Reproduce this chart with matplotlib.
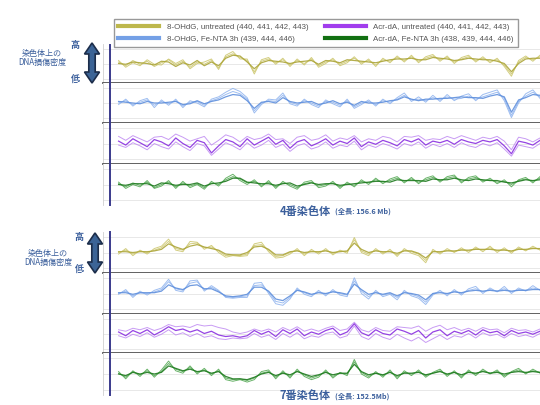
import numpy as np
import matplotlib.pyplot as plt
from matplotlib.lines import Line2D
from matplotlib.patches import Polygon

plt.rcParams['font.family'] = ['Noto Sans CJK JP', 'DejaVu Sans']

# chromosome lengths (Mb)
chr4_length = 156.6
chr7_length = 152.5

series_labels = ['8-OHdG, untreated (440, 441, 442, 443)',
                 '8-OHdG, Fe-NTA 3h (439, 444, 446)',
                 'Acr-dA, untreated (440, 441, 442, 443)',
                 'Acr-dA, Fe-NTA 3h (438, 439, 444, 446)']

# relative DNA damage density along chromosome 4 (3 replicates per track)
chr4_ohdg_untreated = [
    [0.2, -0.3, 0.4, -0.1, 0.3, -0.4, 0.1, 0.5, -0.2, 0.3, -0.5, 0.2, -0.1, 0.4, -0.6, 0.9, 1.3, 0.8, 0.4, -1.1,
     0.3, 0.6, 0.1, 0.5, -0.2, 0.4, 0.0, 0.6, -0.3, 0.2, 0.5, -0.1, 0.3, 0.7, 0.1, 0.4, -0.2, 0.5, 0.3, 0.8,
     0.4, 0.9, 0.3, 0.7, 1.0, 0.5, 0.8, 0.2, 0.6, 0.9, 0.4, 0.7, 0.3, 0.5, -0.2, -1.4, 0.2, 0.8, 0.5, 0.9],
    [0.0, -0.1, 0.2, 0.1, 0.0, -0.2, 0.3, 0.2, -0.4, 0.1, -0.2, 0.4, -0.3, 0.2, -0.3, 0.7, 1.1, 1.0, 0.2, -0.7,
     0.1, 0.4, 0.3, 0.2, 0.0, 0.2, 0.3, 0.4, -0.1, 0.4, 0.3, 0.1, 0.5, 0.4, 0.3, 0.2, 0.1, 0.3, 0.5, 0.6,
     0.6, 0.7, 0.5, 0.5, 0.8, 0.7, 0.6, 0.4, 0.5, 0.7, 0.6, 0.5, 0.5, 0.3, 0.0, -1.1, 0.0, 0.6, 0.7, 0.7],
    [0.4, -0.5, 0.1, -0.3, 0.5, -0.1, -0.2, 0.6, 0.0, 0.5, -0.7, 0.0, 0.2, 0.6, -0.8, 1.1, 1.6, 0.6, 0.6, -1.4,
     0.5, 0.8, -0.1, 0.7, -0.4, 0.6, -0.2, 0.8, -0.5, 0.0, 0.7, -0.3, 0.1, 0.9, -0.1, 0.6, -0.4, 0.7, 0.1, 1.0,
     0.2, 1.1, 0.1, 0.9, 1.2, 0.3, 1.0, 0.0, 0.8, 1.1, 0.2, 0.9, 0.1, 0.7, -0.4, -1.7, 0.4, 1.0, 0.3, 1.1],
]
chr4_ohdg_fenta = [
    [0.0, 0.3, -0.2, 0.1, 0.4, -0.3, 0.2, -0.1, 0.3, -0.4, 0.1, 0.2, -0.3, 0.3, 0.6, 1.1, 1.5, 1.2, 0.5, -1.0,
     0.0, 0.3, 0.2, 1.0, 0.1, -0.2, 0.3, 0.0, -0.4, 0.2, 0.1, -0.3, 0.3, -0.5, 0.0, 0.2, -0.2, 0.3, 0.1, 0.5,
     1.0, 0.4, 0.5, 0.3, 0.7, 0.4, 0.8, 0.5, 0.6, 0.9, 0.5, 0.8, 1.1, 1.4, 0.6, -1.6, 0.2, 0.9, 1.4, 0.8],
    [0.2, 0.1, 0.0, -0.1, 0.2, 0.0, 0.0, 0.1, 0.2, -0.2, -0.1, 0.3, -0.1, 0.2, 0.4, 0.8, 1.1, 1.0, 0.3, -0.7,
     0.1, 0.2, 0.0, 0.7, 0.2, 0.0, 0.1, 0.2, -0.2, 0.0, 0.3, -0.1, 0.1, -0.3, 0.2, 0.0, 0.0, 0.1, 0.3, 0.4,
     0.8, 0.5, 0.3, 0.5, 0.5, 0.6, 0.6, 0.7, 0.8, 0.7, 0.7, 0.6, 0.9, 1.1, 0.8, -1.2, 0.4, 0.7, 1.1, 1.0],
    [-0.2, 0.5, -0.4, 0.3, 0.6, -0.6, 0.4, -0.3, 0.5, -0.6, 0.3, 0.0, -0.5, 0.5, 0.8, 1.4, 1.9, 1.5, 0.7, -1.3,
     -0.2, 0.5, 0.4, 1.3, -0.1, -0.4, 0.5, -0.2, -0.6, 0.4, -0.1, -0.5, 0.5, -0.7, -0.2, 0.4, -0.4, 0.5, -0.1, 0.7,
     1.3, 0.2, 0.8, 0.1, 1.0, 0.2, 1.1, 0.3, 0.9, 1.2, 0.3, 1.1, 1.4, 1.7, 0.3, -1.9, 0.0, 1.2, 1.7, 0.6],
]
chr4_acr_untreated = [
    [0.3, -0.2, 0.6, 0.1, -0.4, 0.5, 0.2, -0.3, 0.7, 0.0, -0.5, 0.4, 0.1, -1.2, -0.3, 0.5, 0.2, -0.4, 0.6, -0.2,
     0.3, 0.8, -0.1, 0.4, -0.6, 0.2, 0.5, -0.3, 0.1, 0.6, -0.2, 0.3, 0.0, 0.7, -0.4, 0.2, -0.1, 0.4, 0.1, -0.3,
     0.5, 0.2, 0.6, -0.2, 0.3, 0.1, 0.4, -0.1, 0.5, 0.2, 0.0, 0.4, 0.2, 0.5, -0.3, -1.3, 0.3, 0.1, -0.2, 0.4],
    [0.9, 0.4, 1.0, 0.6, 0.2, 0.8, 0.9, 0.5, 1.2, 0.8, 0.3, 0.6, 0.9, -0.2, 0.4, 1.1, 0.8, 0.2, 0.9, 0.5,
     0.7, 1.2, 0.5, 0.6, 0.0, 0.8, 1.0, 0.4, 0.6, 1.1, 0.3, 0.7, 0.5, 1.0, 0.2, 0.6, 0.4, 0.9, 0.7, 0.2,
     0.9, 0.8, 1.0, 0.4, 0.6, 0.5, 0.9, 0.6, 1.0, 0.7, 0.4, 0.8, 0.6, 0.9, 0.3, -0.8, 0.8, 0.6, 0.2, 0.7],
    [-0.2, -0.5, 0.1, -0.3, -0.8, 0.0, -0.4, -0.7, 0.2, -0.4, -0.9, 0.0, -0.3, -1.5, -0.7, 0.1, -0.3, -0.8, 0.1, -0.6,
     -0.2, 0.4, -0.5, -0.1, -1.0, -0.3, 0.0, -0.7, -0.4, 0.2, -0.6, -0.2, -0.4, 0.3, -0.8, -0.2, -0.5, 0.0, -0.3, -0.7,
     0.0, -0.3, 0.2, -0.6, -0.1, -0.4, 0.0, -0.5, 0.1, -0.3, -0.5, 0.0, -0.3, 0.1, -0.7, -1.6, -0.2, -0.4, -0.6, 0.0],
]
chr4_acr_fenta = [
    [0.1, -0.3, 0.2, -0.1, 0.3, -0.4, 0.0, 0.3, -0.3, 0.2, -0.2, 0.1, -0.4, 0.2, 0.0, 0.6, 1.0, 0.7, 0.2, 0.4,
     -0.1, 0.3, -0.3, 0.2, 0.0, -0.4, 0.1, 0.3, -0.2, 0.0, 0.2, -0.3, 0.1, -0.1, 0.4, 0.2, 0.6, 0.3, 0.5, 0.8,
     0.4, 0.7, 0.3, 0.6, 0.9, 0.5, 0.8, 1.0, 0.4, 0.7, 0.9, 0.5, 0.6, 0.3, 0.4, 0.0, 0.5, 0.7, 0.4, 0.8],
    [0.0, -0.1, 0.1, 0.1, 0.1, -0.2, 0.2, 0.1, -0.1, 0.0, 0.0, 0.2, -0.2, 0.1, 0.2, 0.4, 0.8, 0.8, 0.3, 0.2,
     0.1, 0.1, -0.1, 0.1, 0.2, -0.2, 0.0, 0.2, 0.0, 0.1, 0.1, -0.1, 0.0, 0.1, 0.2, 0.3, 0.4, 0.4, 0.3, 0.6,
     0.5, 0.5, 0.5, 0.4, 0.7, 0.6, 0.6, 0.8, 0.6, 0.5, 0.7, 0.6, 0.5, 0.5, 0.3, 0.2, 0.4, 0.6, 0.5, 0.6],
    [0.3, -0.5, 0.0, -0.3, 0.5, -0.5, -0.2, 0.5, -0.5, 0.4, -0.4, 0.0, -0.6, 0.4, -0.2, 0.8, 1.3, 0.5, 0.0, 0.6,
     -0.3, 0.5, -0.5, 0.4, -0.2, -0.6, 0.3, 0.5, -0.4, -0.2, 0.4, -0.5, 0.3, -0.3, 0.6, 0.0, 0.8, 0.1, 0.7, 1.0,
     0.2, 0.9, 0.1, 0.8, 1.1, 0.3, 1.0, 1.2, 0.2, 0.9, 1.1, 0.3, 0.8, 0.1, 0.6, -0.3, 0.6, 0.9, 0.2, 1.0],
]

# relative DNA damage density along chromosome 7
chr7_ohdg_untreated = [
    [0.0, 0.3, -0.2, 0.2, 0.0, 0.3, 0.6, 1.4, 0.5, 0.3, 1.1, 1.2, 0.6, 0.7, 0.2, -0.4, -0.3, -0.4, -0.2, 0.9,
     1.0, 0.3, -0.5, -0.4, 0.0, 0.3, -0.2, 0.2, 0.0, 0.3, -0.1, 0.2, 0.1, 1.6, 0.2, -0.2, 0.3, 0.0, 0.2, -0.3,
     0.3, 0.1, -0.2, -1.0, 0.2, 0.0, 0.3, 0.1, 0.4, 0.2, 0.5, 0.3, 0.6, 0.2, 0.4, 0.1, 0.5, 0.3, 0.6, 0.4],
    [0.1, 0.1, 0.0, 0.1, 0.1, 0.2, 0.4, 1.1, 0.7, 0.4, 0.8, 1.0, 0.7, 0.5, 0.3, -0.2, -0.3, -0.3, 0.0, 0.7,
     0.8, 0.4, -0.3, -0.3, 0.1, 0.2, 0.0, 0.1, 0.1, 0.2, 0.0, 0.1, 0.2, 1.2, 0.4, 0.0, 0.2, 0.1, 0.1, -0.1,
     0.2, 0.2, -0.1, -0.7, 0.1, 0.1, 0.2, 0.2, 0.3, 0.3, 0.4, 0.4, 0.4, 0.3, 0.3, 0.2, 0.4, 0.4, 0.5, 0.5],
    [-0.2, 0.5, -0.4, 0.3, -0.2, 0.5, 0.8, 1.7, 0.3, 0.1, 1.4, 1.3, 0.4, 0.9, 0.0, -0.6, -0.4, -0.5, -0.4, 1.1,
     1.3, 0.1, -0.7, -0.6, -0.2, 0.5, -0.4, 0.4, -0.2, 0.5, -0.3, 0.3, -0.1, 1.9, 0.0, -0.4, 0.5, -0.2, 0.4, -0.5,
     0.5, -0.1, -0.4, -1.3, 0.4, -0.2, 0.5, 0.0, 0.6, 0.0, 0.7, 0.1, 0.8, 0.0, 0.6, -0.1, 0.7, 0.2, 0.8, 0.3],
]
chr7_ohdg_fenta = [
    [0.0, 0.3, -0.3, 0.1, 0.0, 0.2, 0.5, 1.5, 0.6, 0.4, 1.3, 1.5, 0.5, 0.8, 0.3, -0.4, -0.5, -0.4, -0.3, 1.0,
     1.1, 0.2, -1.0, -1.2, -0.5, 0.5, 0.1, -0.2, 0.2, -0.1, 0.3, 0.0, -0.2, 1.6, 0.3, -0.4, 0.2, -0.2, 0.0, -0.5,
     0.2, -0.1, -0.4, -1.1, 0.0, 0.2, -0.1, 0.3, 0.0, 0.4, 0.6, 0.2, 0.5, 0.3, 0.6, 0.2, 0.5, 0.4, 0.7, 0.5],
    [0.1, 0.1, -0.1, 0.1, 0.1, 0.1, 0.3, 1.1, 0.7, 0.5, 1.0, 1.1, 0.6, 0.6, 0.2, -0.3, -0.4, -0.3, -0.1, 0.8,
     0.8, 0.3, -0.7, -0.9, -0.3, 0.4, 0.2, -0.1, 0.1, 0.0, 0.2, 0.1, -0.1, 1.2, 0.5, -0.1, 0.1, -0.1, 0.1, -0.3,
     0.1, 0.0, -0.2, -0.8, 0.0, 0.1, 0.0, 0.2, 0.1, 0.3, 0.4, 0.3, 0.4, 0.3, 0.4, 0.3, 0.4, 0.4, 0.5, 0.5],
    [-0.1, 0.5, -0.5, 0.3, -0.2, 0.4, 0.7, 1.8, 0.4, 0.2, 1.6, 1.7, 0.3, 1.0, 0.4, -0.5, -0.6, -0.5, -0.5, 1.3,
     1.4, 0.0, -1.3, -1.5, -0.7, 0.7, -0.1, -0.4, 0.4, -0.3, 0.5, -0.2, -0.4, 2.0, 0.0, -0.7, 0.4, -0.4, -0.1, -0.8,
     0.4, -0.3, -0.6, -1.4, -0.2, 0.4, -0.3, 0.5, -0.2, 0.6, 0.9, 0.0, 0.7, 0.2, 0.9, 0.0, 0.7, 0.3, 1.0, 0.4],
]
chr7_acr_untreated = [
    [0.2, -0.3, 0.4, 0.0, 0.5, -0.2, 0.3, 0.9, 0.4, 0.6, 0.2, 0.5, 0.0, 0.3, -0.2, -0.4, -0.3, -0.5, -0.3, 0.4,
     -0.1, 0.3, -0.4, 0.5, 0.0, 0.6, -0.3, 0.2, -0.1, 0.4, 0.7, -0.2, 0.2, 1.3, 0.1, -0.3, 0.5, 0.0, -0.2, 0.6,
     0.3, -0.1, 0.4, -0.6, 0.2, 0.5, -0.3, 0.3, 0.0, 0.4, -0.2, 0.5, 0.1, 0.3, -0.3, 0.4, 0.0, 0.2, -0.1, 0.3],
    [0.5, 0.3, 0.7, 0.5, 0.8, 0.4, 0.7, 1.2, 0.9, 1.0, 0.8, 1.2, 1.0, 1.1, 0.8, 0.6, 0.2, 0.0, 0.2, 0.6,
     0.3, 0.6, 0.2, 0.8, 0.4, 0.9, 0.3, 0.6, 0.3, 0.7, 1.0, 0.4, 0.6, 1.5, 0.5, 0.2, 0.8, 0.4, 0.3, 0.9,
     0.8, 0.7, 1.0, 0.3, 0.8, 1.1, 0.5, 0.8, 0.4, 0.7, 0.3, 0.8, 0.5, 0.6, 0.1, 0.7, 0.4, 0.5, 0.2, 0.6],
    [-0.3, -0.6, -0.1, -0.4, 0.1, -0.5, -0.1, 0.5, -0.2, 0.1, -0.4, 0.0, -0.5, -0.3, -0.7, -0.8, -0.6, -0.7, -0.6, 0.0,
     -0.5, -0.2, -0.8, 0.0, -0.5, 0.1, -0.7, -0.3, -0.5, 0.0, 0.2, -0.6, -0.3, 1.0, -0.4, -0.8, 0.0, -0.5, -0.8, -0.1,
     -0.6, -1.0, -0.5, -1.2, -0.7, -0.2, -0.8, -0.3, -0.5, 0.0, -0.6, 0.1, -0.3, -0.1, -0.6, 0.0, -0.4, -0.2, -0.5, 0.0],
]
chr7_acr_fenta = [
    [0.1, -0.4, 0.3, -0.1, 0.4, -0.2, 0.3, 1.3, 0.6, 0.3, 0.8, 0.2, 0.5, 0.0, 0.4, -0.5, -0.7, -0.6, -0.8, -0.5,
     0.1, 0.3, -0.4, 0.2, -0.3, 0.4, -0.1, -0.5, -0.2, 0.3, -0.3, 0.1, 0.0, 1.5, 0.2, -0.3, 0.1, -0.2, 0.3, -0.4,
     0.2, 0.0, 0.3, -0.2, 0.1, 0.4, -0.1, 0.2, -0.3, 0.3, 0.0, 0.4, 0.1, 0.3, -0.2, 0.2, 0.5, 0.1, 0.4, 0.2],
    [0.0, -0.2, 0.2, 0.0, 0.2, 0.0, 0.2, 1.0, 0.7, 0.4, 0.6, 0.3, 0.4, 0.1, 0.3, -0.3, -0.6, -0.6, -0.7, -0.4,
     0.0, 0.2, -0.2, 0.1, -0.1, 0.3, 0.0, -0.3, -0.1, 0.2, -0.1, 0.1, 0.1, 1.2, 0.3, -0.1, 0.1, -0.1, 0.2, -0.2,
     0.1, 0.1, 0.2, -0.1, 0.1, 0.3, 0.0, 0.2, -0.1, 0.2, 0.1, 0.3, 0.1, 0.2, 0.0, 0.2, 0.3, 0.2, 0.3, 0.2],
    [0.3, -0.6, 0.4, -0.3, 0.6, -0.4, 0.5, 1.6, 0.4, 0.1, 1.0, 0.0, 0.7, -0.2, 0.6, -0.7, -0.9, -0.7, -1.0, -0.7,
     0.3, 0.5, -0.6, 0.4, -0.5, 0.6, -0.3, -0.7, -0.4, 0.5, -0.5, 0.2, -0.2, 1.8, 0.0, -0.5, 0.3, -0.4, 0.5, -0.6,
     0.4, -0.2, 0.5, -0.4, 0.2, 0.6, -0.3, 0.4, -0.5, 0.5, -0.2, 0.6, 0.0, 0.5, -0.4, 0.3, 0.7, 0.0, 0.6, 0.1],
]

# line colours: (light replicate colour, darker replicate colour, legend colour)
track_colors = [('#cbc56a', '#aca53a', '#bdb74c'),
                ('#8db2ee', '#5f8fdc', '#74a0e6'),
                ('#bf8af2', '#8a2fe0', '#a13ded'),
                ('#4fa64f', '#1f7a1f', '#127012')]
dark_replicate = [1, 1, 0, 1]

W, H = 540, 405
fig = plt.figure(figsize=(W / 100, H / 100), dpi=100)


def fbox(x0, y0, x1, y1):
    return [x0 / W, 1 - y1 / H, (x1 - x0) / W, (y1 - y0) / H]


def fx(x):
    return x / W


def fy(y):
    return 1 - y / H


label_color = '#3b5f9c'
legend_handles = []


def draw_panel(tracks, length, edges, spine_span, title, subtitle, title_y, side):
    x = np.linspace(0, length, len(tracks[0][0]))
    x0 = -0.037 * length
    for k, reps in enumerate(tracks):
        ax = fig.add_axes(fbox(103, edges[k], 540, edges[k + 1]))
        ax.set_xlim(x0, length)
        ax.set_ylim(-2.6, 2.6)
        for g in (-2, 0, 2):
            ax.axhline(g, color='#e4e4e4', lw=0.6, zorder=0)
        light, dark, leg = track_colors[k]
        for j, y in enumerate(reps):
            if j == dark_replicate[k]:
                ax.plot(x, y, color=dark, lw=0.9, alpha=0.9, zorder=3)
            else:
                ax.plot(x, y, color=light, lw=0.7, alpha=0.85)
        ax.set_xticks([])
        ax.set_yticks([])
        ax.spines['top'].set_visible(False)
        ax.spines['right'].set_visible(False)
        ax.spines['left'].set_color('#d0d0d0')
        ax.spines['left'].set_linewidth(0.6)
        if k < 3:
            ax.spines['bottom'].set_color('#555555')
            ax.spines['bottom'].set_linewidth(1.3)
        else:
            ax.spines['bottom'].set_visible(False)
        if len(legend_handles) < 4:
            legend_handles.append(Line2D([], [], color=leg, lw=3))

    fig.add_artist(Line2D([fx(110), fx(110)], [fy(spine_span[0]), fy(spine_span[1])],
                          color='#3a3a8c', lw=1.4))

    # titles under each panel
    fig.text(fx(331), fy(title_y), title, ha='right', va='center', fontsize=8,
             fontweight='bold', color=label_color)
    fig.text(fx(335), fy(title_y + 0.5), subtitle, ha='left', va='center', fontsize=5.2,
             fontweight='bold', color=label_color)

    # left-hand scale label with double arrow
    cx, ty, by, lx, hx, top_y, bot_y, ly = side
    hw, hl, sw = 7.5, 11, 3.2
    pts = [(cx, ty), (cx + hw, ty + hl), (cx + sw, ty + hl), (cx + sw, by - hl),
           (cx + hw, by - hl), (cx, by), (cx - hw, by - hl), (cx - sw, by - hl),
           (cx - sw, ty + hl), (cx - hw, ty + hl)]
    fig.add_artist(Polygon([(fx(px), fy(py)) for px, py in pts], closed=True,
                           transform=fig.transFigure, facecolor='#3c6496',
                           edgecolor='#1c2d4a', lw=1.2))
    fig.text(fx(hx), fy(top_y), '高', ha='center', va='center', fontsize=6.5,
             fontweight='bold', color=label_color)
    fig.text(fx(hx), fy(bot_y), '低', ha='center', va='center', fontsize=6.5,
             fontweight='bold', color=label_color)
    fig.text(fx(lx), fy(ly), '染色体上の\nDNA損傷密度', ha='center', va='center',
             fontsize=5.8, color=label_color, linespacing=1.0)


draw_panel([chr4_ohdg_untreated, chr4_ohdg_fenta, chr4_acr_untreated, chr4_acr_fenta],
           chr4_length, [44, 83, 123, 164, 205], (45, 205),
           '4番染色体', '(全長: 156.6 Mb)', 211,
           (92, 43, 83, 42, 75, 45, 80, 58))
draw_panel([chr7_ohdg_untreated, chr7_ohdg_fenta, chr7_acr_untreated, chr7_acr_fenta],
           chr7_length, [232, 273, 314, 353, 395], (232, 395),
           '7番染色体', '(全長: 152.5Mb)', 396,
           (95, 233, 273, 48, 79, 237, 270, 258))

fig.legend(legend_handles, series_labels, loc='upper left',
           bbox_to_anchor=(fx(110), fy(15)), ncol=2, frameon=True, fancybox=False,
           edgecolor='#999999', framealpha=1, handlelength=5.2, handletextpad=0.9,
           columnspacing=2.1, borderpad=0.55, labelspacing=0.55,
           prop={'family': ['Liberation Sans', 'DejaVu Sans'], 'size': 5.7},
           labelcolor='#555555')

fig.savefig('out.png', dpi=100)
